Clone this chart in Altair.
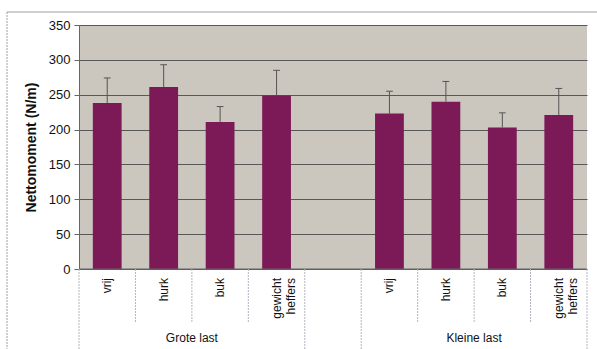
import altair as alt
import pandas as pd

# ---- data ----
groups = ["Grote last", "Kleine last"]
categories = ["vrij", "hurk", "buk", "gewicht\nheffers"]
means_grote = [238, 261, 211, 249]
upper_grote = [274, 293, 233, 285]
means_kleine = [223, 240, 203, 221]
upper_kleine = [255, 269, 224, 259]
y_ticks = [0, 50, 100, 150, 200, 250, 300, 350]

rows = []
for gi, (g, means, uppers) in enumerate([(groups[0], means_grote, upper_grote),
                                          (groups[1], means_kleine, upper_kleine)]):
    for ci, c in enumerate(categories):
        slot = gi * (len(categories) + 1) + ci
        rows.append({"group": g, "cat": c, "mean": means[ci], "upper": uppers[ci],
                     "zero": 0,
                     "center": slot + 0.5, "left": slot + 0.245, "right": slot + 0.755,
                     "capl": slot + 0.44, "capr": slot + 0.56})
df = pd.DataFrame(rows)

n_slots = 2 * len(categories) + 1
grp_df = pd.DataFrame({"group": groups,
                       "center": [len(categories) / 2, len(categories) + 1 + len(categories) / 2]})
full_sep = pd.DataFrame({"pos": [0, len(categories), len(categories) + 1, n_slots]})
inner_sep = pd.DataFrame({"pos": [p for p in range(n_slots + 1) if p not in (0, len(categories), len(categories) + 1, n_slots)]})

W, H = 508, 244
xs = alt.Scale(domain=[0, n_slots], nice=False, zero=False)
ys = alt.Scale(domain=[0, 350], nice=False)
yaxis = alt.Axis(values=y_ticks, title="Nettomoment (N/m)", grid=True,
                 gridColor="#585858", gridWidth=1, domainColor="#666666",
                 tickColor="#666666", tickSize=5, labelFontSize=13,
                 labelColor="#111111", labelPadding=4, titleFontSize=14,
                 titleFontWeight="bold", titleColor="#111111",
                 titlePadding=10, labelFont="Liberation Sans",
                 titleFont="Liberation Sans", labelOverlap=False)


def Y(field):
    return alt.Y(field, scale=ys, axis=yaxis)


base = alt.Chart(df)

bars = base.mark_bar(color="#7b1a57").encode(
    x=alt.X("left:Q", scale=xs, axis=None),
    x2="right:Q",
    y=Y("mean:Q"),
    y2="zero:Q",
)

err = base.mark_rule(color="#555555", strokeWidth=1).encode(
    x=alt.X("center:Q", scale=xs, axis=None), y=Y("mean:Q"), y2="upper:Q")
caps = base.mark_rule(color="#555555", strokeWidth=1).encode(
    x=alt.X("capl:Q", scale=xs, axis=None), x2="capr:Q", y=Y("upper:Q"))

zero_line = alt.Chart(pd.DataFrame({"v": [0]})).mark_rule(color="#666666").encode(
    y=Y("v:Q"), x=alt.value(0), x2=alt.value(W))

cat_text = base.mark_text(angle=270, align="right", baseline="middle", fontSize=12,
                          font="Liberation Sans", color="#111111", lineBreak="\n",
                          lineHeight=14).encode(
    x=alt.X("center:Q", scale=xs, axis=None), y=alt.value(H + 9), text="cat:N")

grp_text = alt.Chart(grp_df).mark_text(fontSize=12, font="Liberation Sans",
                                       color="#111111", baseline="middle").encode(
    x=alt.X("center:Q", scale=xs, axis=None), y=alt.value(313), text="group:N")

full_lines = alt.Chart(full_sep).mark_rule(color="#b4b4c0", strokeWidth=1,
                                           strokeDash=[2, 1]).encode(
    x=alt.X("pos:Q", scale=xs, axis=None), y=alt.value(H), y2=alt.value(330))
inner_lines = alt.Chart(inner_sep).mark_rule(color="#b4b4c0", strokeWidth=1,
                                             strokeDash=[2, 1]).encode(
    x=alt.X("pos:Q", scale=xs, axis=None), y=alt.value(H), y2=alt.value(297))

border_top = alt.Chart(pd.DataFrame({"v": [0]})).mark_rule(color="#a0a0a0").encode(
    x=alt.value(-72), x2=alt.value(520), y=alt.value(-13))
border_left = alt.Chart(pd.DataFrame({"v": [0]})).mark_rule(color="#a0a0a0",
                                                            strokeDash=[2, 1]).encode(
    x=alt.value(-72), y=alt.value(-13), y2=alt.value(340))

chart = alt.layer(bars, err, caps, zero_line, full_lines, inner_lines,
                  cat_text, grp_text, border_top, border_left).properties(
    width=W, height=H,
    autosize=alt.AutoSizeParams(type="none"),
    padding={"left": 79, "top": 25, "right": 10, "bottom": 80},
    background="white",
).configure_view(fill="#cbc6be", stroke=None)

chart.save("out.html", embed_options={"renderer": "svg", "actions": False})
